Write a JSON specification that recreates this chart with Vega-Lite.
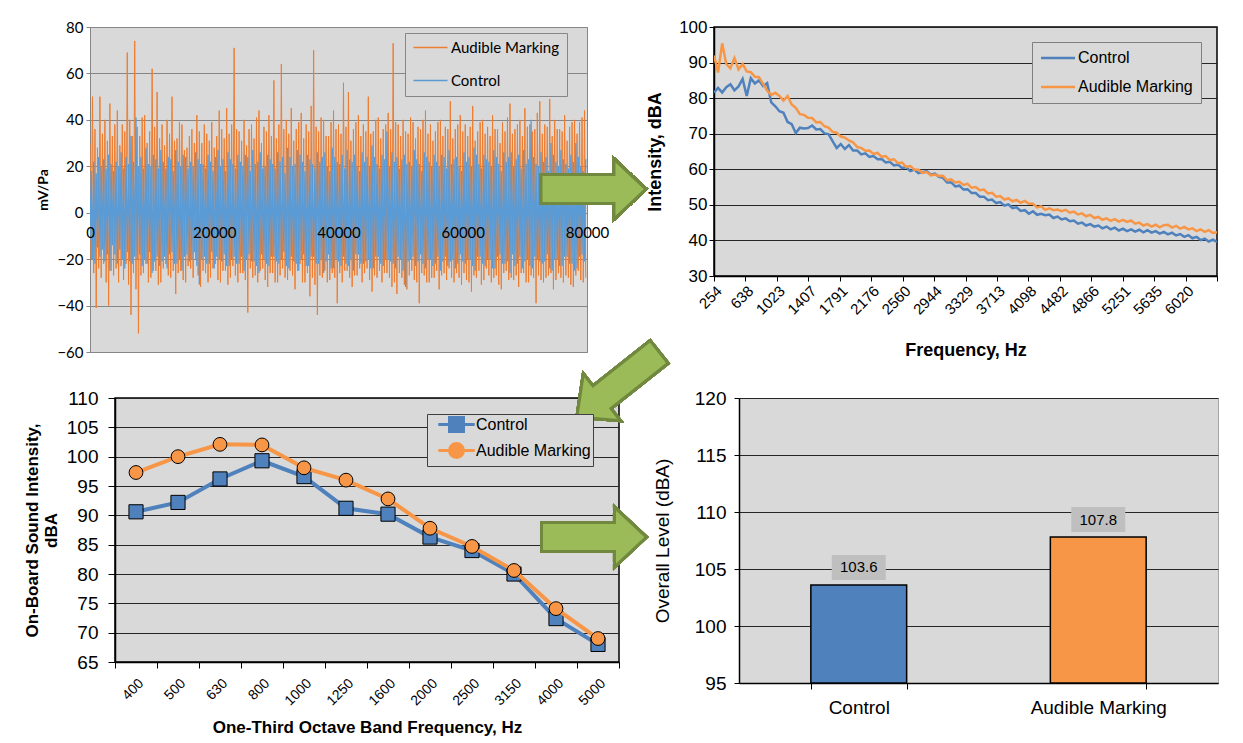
{
  "$schema": "https://vega.github.io/schema/vega-lite/v6.json",
  "background": "white",
  "padding": {"left": 22, "top": 17, "right": 2, "bottom": 2},
  "config": {
    "font": "Liberation Sans",
    "view": {"fill": "#d9d9d9", "stroke": "#000000", "strokeWidth": 1.5},
    "axis": {"labelColor": "#000000", "titleColor": "#000000", "domainColor": "#000000", "tickColor": "#000000", "gridColor": "#262626", "gridWidth": 1, "labelFont": "Liberation Sans", "titleFont": "Liberation Sans", "domainWidth": 1.5, "tickWidth": 1, "tickCount": 30},
    "legend": {"labelFont": "Liberation Sans", "labelColor": "#000000"}
  },
  "resolve": {"scale": {"color": "independent"}, "legend": {"color": "independent"}},
  "spacing": -28,
  "vconcat": [
    {
      "bounds": "flush",
      "spacing": 127,
      "resolve": {"scale": {"color": "independent"}, "legend": {"color": "independent"}},
      "hconcat": [
        {
          "width": 497,
          "height": 325,
          "view": {"fill": "#d9d9d9", "stroke": "#868686", "strokeWidth": 1},
          "data": {"values": [
{"t":0,"a":30,"c":-12},{"t":200,"a":-20,"c":18},{"t":400,"a":50,"c":-20},{"t":600,"a":-26,"c":22},{"t":800,"a":36,"c":-22},{"t":1000,"a":-41,"c":17},{"t":1200,"a":28,"c":-15},{"t":1400,"a":-24,"c":24},{"t":1600,"a":50,"c":-19},{"t":1800,"a":-28,"c":20},
{"t":2000,"a":34,"c":-16},{"t":2200,"a":-22,"c":23},{"t":2400,"a":40,"c":-21},{"t":2600,"a":-30,"c":19},{"t":2800,"a":31,"c":-18},{"t":3000,"a":-40,"c":25},{"t":3200,"a":47,"c":-25},{"t":3400,"a":-25,"c":21},{"t":3600,"a":33,"c":-14},{"t":3800,"a":-27,"c":18},
{"t":4000,"a":38,"c":-18},{"t":4200,"a":-24,"c":22},{"t":4400,"a":44,"c":-22},{"t":4600,"a":-30,"c":20},{"t":4800,"a":29,"c":-16},{"t":5000,"a":-23,"c":26},{"t":5200,"a":38,"c":-20},{"t":5400,"a":-29,"c":19},{"t":5600,"a":35,"c":-24},{"t":5800,"a":-22,"c":24},
{"t":6000,"a":69,"c":-17},{"t":6200,"a":-31,"c":21},{"t":6400,"a":40,"c":-21},{"t":6600,"a":-44,"c":33},{"t":6800,"a":33,"c":-22},{"t":7000,"a":-26,"c":22},{"t":7200,"a":74,"c":-19},{"t":7400,"a":-33,"c":41},{"t":7600,"a":37,"c":-20},{"t":7800,"a":-52,"c":20},
{"t":8000,"a":33,"c":-18},{"t":8200,"a":-27,"c":24},{"t":8400,"a":41,"c":-23},{"t":8600,"a":-26,"c":19},{"t":8800,"a":42,"c":-20},{"t":9000,"a":-22,"c":28},{"t":9200,"a":30,"c":-22},{"t":9400,"a":-30,"c":21},{"t":9600,"a":35,"c":-17},{"t":9800,"a":-28,"c":20},
{"t":10000,"a":62,"c":-26},{"t":10200,"a":-25,"c":25},{"t":10400,"a":37,"c":-21},{"t":10600,"a":-25,"c":23},{"t":10800,"a":52,"c":-19},{"t":11000,"a":-31,"c":19},{"t":11200,"a":32,"c":-23},{"t":11400,"a":-30,"c":27},{"t":11600,"a":38,"c":-21},{"t":11800,"a":-24,"c":22},
{"t":12000,"a":29,"c":-19},{"t":12200,"a":-22,"c":19},{"t":12400,"a":40,"c":-24},{"t":12600,"a":-27,"c":24},{"t":12800,"a":34,"c":-18},{"t":13000,"a":-28,"c":23},{"t":13200,"a":50,"c":-17},{"t":13400,"a":-25,"c":18},{"t":13600,"a":31,"c":-22},{"t":13800,"a":-35,"c":27},
{"t":14000,"a":32,"c":-22},{"t":14200,"a":-26,"c":22},{"t":14400,"a":39,"c":-20},{"t":14600,"a":-25,"c":20},{"t":14800,"a":38,"c":-25},{"t":15000,"a":-29,"c":25},{"t":15200,"a":27,"c":-19},{"t":15400,"a":-30,"c":24},{"t":15600,"a":28,"c":-18},{"t":15800,"a":-23,"c":19},
{"t":16000,"a":33,"c":-21},{"t":16200,"a":-24,"c":22},{"t":16400,"a":36,"c":-20},{"t":16600,"a":-28,"c":20},{"t":16800,"a":30,"c":-17},{"t":17000,"a":-20,"c":26},{"t":17200,"a":42,"c":-23},{"t":17400,"a":-27,"c":23},{"t":17600,"a":35,"c":-31},{"t":17800,"a":-32,"c":21},
{"t":18000,"a":30,"c":-20},{"t":18200,"a":-25,"c":21},{"t":18400,"a":38,"c":-19},{"t":18600,"a":-26,"c":19},{"t":18800,"a":34,"c":-22},{"t":19000,"a":-30,"c":25},{"t":19200,"a":31,"c":-22},{"t":19400,"a":-28,"c":22},{"t":19600,"a":39,"c":-17},{"t":19800,"a":-24,"c":18},
{"t":20000,"a":28,"c":-24},{"t":20200,"a":-22,"c":24},{"t":20400,"a":33,"c":-19},{"t":20600,"a":-29,"c":27},{"t":20800,"a":44,"c":-20},{"t":21000,"a":-30,"c":20},{"t":21200,"a":36,"c":-21},{"t":21400,"a":-25,"c":23},{"t":21600,"a":32,"c":-18},{"t":21800,"a":-25,"c":18},
{"t":22000,"a":45,"c":-23},{"t":22200,"a":-31,"c":26},{"t":22400,"a":34,"c":-23},{"t":22600,"a":-28,"c":23},{"t":22800,"a":38,"c":-20},{"t":23000,"a":-23,"c":21},{"t":23200,"a":71,"c":-19},{"t":23400,"a":-27,"c":19},{"t":23600,"a":36,"c":-22},{"t":23800,"a":-30,"c":25},
{"t":24000,"a":35,"c":-22},{"t":24200,"a":-26,"c":22},{"t":24400,"a":31,"c":-19},{"t":24600,"a":-26,"c":20},{"t":24800,"a":40,"c":-25},{"t":25000,"a":-29,"c":25},{"t":25200,"a":29,"c":-20},{"t":25400,"a":-43,"c":24},{"t":25600,"a":36,"c":-18},{"t":25800,"a":-24,"c":18},
{"t":26000,"a":38,"c":-21},{"t":26200,"a":-28,"c":27},{"t":26400,"a":32,"c":-21},{"t":26600,"a":-27,"c":21},{"t":26800,"a":41,"c":-23},{"t":27000,"a":-30,"c":22},{"t":27200,"a":44,"c":-26},{"t":27400,"a":-25,"c":26},{"t":27600,"a":30,"c":-18},{"t":27800,"a":-24,"c":19},
{"t":28000,"a":37,"c":-20},{"t":28200,"a":-29,"c":20},{"t":28400,"a":35,"c":-22},{"t":28600,"a":-32,"c":25},{"t":28800,"a":42,"c":-23},{"t":29000,"a":-26,"c":23},{"t":29200,"a":33,"c":-19},{"t":29400,"a":-26,"c":21},{"t":29600,"a":57,"c":-19},{"t":29800,"a":-30,"c":19},
{"t":30000,"a":32,"c":-21},{"t":30200,"a":-30,"c":26},{"t":30400,"a":38,"c":-22},{"t":30600,"a":-27,"c":22},{"t":30800,"a":64,"c":-20},{"t":31000,"a":-24,"c":24},{"t":31200,"a":36,"c":-17},{"t":31400,"a":-28,"c":17},{"t":31600,"a":40,"c":-23},{"t":31800,"a":-29,"c":28},
{"t":32000,"a":34,"c":-24},{"t":32200,"a":-25,"c":24},{"t":32400,"a":45,"c":-19},{"t":32600,"a":-27,"c":20},{"t":32800,"a":31,"c":-21},{"t":33000,"a":-33,"c":21},{"t":33200,"a":36,"c":-22},{"t":33400,"a":-25,"c":27},{"t":33600,"a":39,"c":-25},{"t":33800,"a":-22,"c":25},
{"t":34000,"a":43,"c":-20},{"t":34200,"a":-30,"c":22},{"t":34400,"a":32,"c":-18},{"t":34600,"a":-30,"c":18},{"t":34800,"a":38,"c":-23},{"t":35000,"a":-26,"c":25},{"t":35200,"a":35,"c":-23},{"t":35400,"a":-36,"c":23},{"t":35600,"a":46,"c":-19},{"t":35800,"a":-28,"c":21},
{"t":36000,"a":70,"c":-19},{"t":36200,"a":-31,"c":19},{"t":36400,"a":37,"c":-22},{"t":36600,"a":-44,"c":26},{"t":36800,"a":35,"c":-22},{"t":37000,"a":-27,"c":22},{"t":37200,"a":41,"c":-20},{"t":37400,"a":-28,"c":24},{"t":37600,"a":40,"c":-26},{"t":37800,"a":-25,"c":26},
{"t":38000,"a":33,"c":-21},{"t":38200,"a":-30,"c":20},{"t":38400,"a":33,"c":-18},{"t":38600,"a":-29,"c":18},{"t":38800,"a":39,"c":-24},{"t":39000,"a":-26,"c":28},{"t":39200,"a":44,"c":-24},{"t":39400,"a":-28,"c":24},{"t":39600,"a":36,"c":-20},{"t":39800,"a":-39,"c":22},
{"t":40000,"a":38,"c":-21},{"t":40200,"a":-26,"c":21},{"t":40400,"a":34,"c":-23},{"t":40600,"a":-30,"c":25},{"t":40800,"a":56,"c":-19},{"t":41000,"a":-25,"c":19},{"t":41200,"a":37,"c":-22},{"t":41400,"a":-25,"c":27},{"t":41600,"a":52,"c":-23},{"t":41800,"a":-28,"c":23},
{"t":42000,"a":31,"c":-20},{"t":42200,"a":-32,"c":22},{"t":42400,"a":36,"c":-25},{"t":42600,"a":-27,"c":25},{"t":42800,"a":39,"c":-18},{"t":43000,"a":-27,"c":20},{"t":43200,"a":42,"c":-18},{"t":43400,"a":-24,"c":18},{"t":43600,"a":33,"c":-22},{"t":43800,"a":-30,"c":26},
{"t":44000,"a":38,"c":-22},{"t":44200,"a":-26,"c":22},{"t":44400,"a":35,"c":-21},{"t":44600,"a":-24,"c":24},{"t":44800,"a":50,"c":-20},{"t":45000,"a":-29,"c":20},{"t":45200,"a":34,"c":-24},{"t":45400,"a":-34,"c":29},{"t":45600,"a":35,"c":-24},{"t":45800,"a":-27,"c":24},
{"t":46000,"a":40,"c":-19},{"t":46200,"a":-28,"c":21},{"t":46400,"a":41,"c":-19},{"t":46600,"a":-25,"c":19},{"t":46800,"a":32,"c":-22},{"t":47000,"a":-30,"c":25},{"t":47200,"a":36,"c":-23},{"t":47400,"a":-26,"c":23},{"t":47600,"a":38,"c":-20},{"t":47800,"a":-26,"c":35},
{"t":48000,"a":43,"c":-20},{"t":48200,"a":-28,"c":20},{"t":48400,"a":36,"c":-21},{"t":48600,"a":-32,"c":26},{"t":48800,"a":73,"c":-22},{"t":49000,"a":-30,"c":22},{"t":49200,"a":39,"c":-24},{"t":49400,"a":-35,"c":24},{"t":49600,"a":38,"c":-19},{"t":49800,"a":-26,"c":19},
{"t":50000,"a":33,"c":-20},{"t":50200,"a":-28,"c":23},{"t":50400,"a":40,"c":-25},{"t":50600,"a":-31,"c":25},{"t":50800,"a":35,"c":-32},{"t":51000,"a":-33,"c":21},{"t":51200,"a":34,"c":-21},{"t":51400,"a":-27,"c":22},{"t":51600,"a":41,"c":-20},{"t":51800,"a":-25,"c":20},
{"t":52000,"a":39,"c":-19},{"t":52200,"a":-29,"c":27},{"t":52400,"a":32,"c":-23},{"t":52600,"a":-30,"c":23},{"t":52800,"a":37,"c":-21},{"t":53000,"a":-39,"c":21},{"t":53200,"a":36,"c":-18},{"t":53400,"a":-26,"c":18},{"t":53600,"a":40,"c":-22},{"t":53800,"a":-27,"c":26},
{"t":54000,"a":44,"c":-24},{"t":54200,"a":-30,"c":24},{"t":54400,"a":34,"c":-20},{"t":54600,"a":-30,"c":22},{"t":54800,"a":38,"c":-20},{"t":55000,"a":-28,"c":20},{"t":55200,"a":31,"c":-23},{"t":55400,"a":-28,"c":25},{"t":55600,"a":35,"c":-22},{"t":55800,"a":-25,"c":22},
{"t":56000,"a":39,"c":-19},{"t":56200,"a":-33,"c":20},{"t":56400,"a":40,"c":-25},{"t":56600,"a":-27,"c":25},{"t":56800,"a":33,"c":-21},{"t":57000,"a":-26,"c":24},{"t":57200,"a":37,"c":-19},{"t":57400,"a":-29,"c":19},{"t":57600,"a":36,"c":-23},{"t":57800,"a":-24,"c":27},
{"t":58000,"a":48,"c":-21},{"t":58200,"a":-28,"c":21},{"t":58400,"a":32,"c":-20},{"t":58600,"a":-30,"c":23},{"t":58800,"a":36,"c":-24},{"t":59000,"a":-26,"c":24},{"t":59200,"a":38,"c":-22},{"t":59400,"a":-28,"c":20},{"t":59600,"a":42,"c":-18},{"t":59800,"a":-31,"c":18},
{"t":60000,"a":35,"c":-21},{"t":60200,"a":-26,"c":26},{"t":60400,"a":38,"c":-22},{"t":60600,"a":-29,"c":22},{"t":60800,"a":33,"c":-20},{"t":61000,"a":-30,"c":24},{"t":61200,"a":37,"c":-20},{"t":61400,"a":-34,"c":20},{"t":61600,"a":46,"c":-23},{"t":61800,"a":-27,"c":28},
{"t":62000,"a":31,"c":-25},{"t":62200,"a":-28,"c":25},{"t":62400,"a":35,"c":-19},{"t":62600,"a":-25,"c":21},{"t":62800,"a":39,"c":-19},{"t":63000,"a":-31,"c":19},{"t":63200,"a":40,"c":-22},{"t":63400,"a":-29,"c":25},{"t":63600,"a":34,"c":-23},{"t":63800,"a":-24,"c":23},
{"t":64000,"a":37,"c":-20},{"t":64200,"a":-27,"c":22},{"t":64400,"a":33,"c":-20},{"t":64600,"a":-30,"c":20},{"t":64800,"a":42,"c":-24},{"t":65000,"a":-28,"c":27},{"t":65200,"a":36,"c":-24},{"t":65400,"a":-27,"c":24},{"t":65600,"a":36,"c":-19},{"t":65800,"a":-31,"c":21},
{"t":66000,"a":30,"c":-18},{"t":66200,"a":-33,"c":18},{"t":66400,"a":39,"c":-22},{"t":66600,"a":-26,"c":26},{"t":66800,"a":35,"c":-22},{"t":67000,"a":-25,"c":22},{"t":67200,"a":41,"c":-21},{"t":67400,"a":-29,"c":24},{"t":67600,"a":47,"c":-26},{"t":67800,"a":-28,"c":26},
{"t":68000,"a":34,"c":-18},{"t":68200,"a":-29,"c":20},{"t":68400,"a":36,"c":-23},{"t":68600,"a":-27,"c":23},{"t":68800,"a":38,"c":-22},{"t":69000,"a":-32,"c":25},{"t":69200,"a":40,"c":-19},{"t":69400,"a":-26,"c":19},{"t":69600,"a":33,"c":-24},{"t":69800,"a":-26,"c":27},
{"t":70000,"a":45,"c":-21},{"t":70200,"a":-30,"c":21},{"t":70400,"a":37,"c":-20},{"t":70600,"a":-30,"c":23},{"t":70800,"a":38,"c":-23},{"t":71000,"a":-27,"c":40},{"t":71200,"a":35,"c":-24},{"t":71400,"a":-28,"c":24},{"t":71600,"a":36,"c":-19},{"t":71800,"a":-39,"c":21},
{"t":72000,"a":43,"c":-20},{"t":72200,"a":-27,"c":20},{"t":72400,"a":48,"c":-21},{"t":72600,"a":-29,"c":26},{"t":72800,"a":34,"c":-22},{"t":73000,"a":-30,"c":22},{"t":73200,"a":38,"c":-21},{"t":73400,"a":-28,"c":24},{"t":73600,"a":37,"c":-18},{"t":73800,"a":-27,"c":18},
{"t":74000,"a":49,"c":-24},{"t":74200,"a":-26,"c":30},{"t":74400,"a":33,"c":-25},{"t":74600,"a":-33,"c":25},{"t":74800,"a":40,"c":-20},{"t":75000,"a":-29,"c":22},{"t":75200,"a":36,"c":-20},{"t":75400,"a":-26,"c":20},{"t":75600,"a":36,"c":-23},{"t":75800,"a":-28,"c":27},
{"t":76000,"a":35,"c":-23},{"t":76200,"a":-30,"c":23},{"t":76400,"a":42,"c":-19},{"t":76600,"a":-27,"c":21},{"t":76800,"a":31,"c":-19},{"t":77000,"a":-28,"c":19},{"t":77200,"a":37,"c":-22},{"t":77400,"a":-31,"c":25},{"t":77600,"a":39,"c":-22},{"t":77800,"a":-32,"c":22},
{"t":78000,"a":40,"c":-25},{"t":78200,"a":-27,"c":30},{"t":78400,"a":34,"c":-24},{"t":78600,"a":-25,"c":24},{"t":78800,"a":39,"c":-19},{"t":79000,"a":-29,"c":20},{"t":79200,"a":41,"c":-18},{"t":79400,"a":-30,"c":18},{"t":79600,"a":44,"c":-21},{"t":79800,"a":-28,"c":23}
          ]},
          "layer": [
            {
              "mark": {"type": "line", "strokeWidth": 1, "clip": true},
              "encoding": {
                "x": {"field": "t", "type": "quantitative", "title": null, "scale": {"domain": [0, 80000], "nice": false, "zero": false},
                  "axis": {"values": [0, 20000, 40000, 60000, 80000], "format": "d", "offset": -139, "ticks": false, "domain": false, "grid": false, "labelFont": "Lato", "labelFontSize": 15, "labelPadding": 12, "labelFlush": false, "labelOverlap": false, "zindex": 2}},
                "y": {"field": "a", "type": "quantitative", "title": "mV/Pa", "scale": {"domain": [-60, 80], "nice": false, "zero": false},
                  "axis": {"values": [-60, -40, -20, 0, 20, 40, 60, 80], "labelOverlap": false, "labelFont": "Lato", "labelFontSize": 15, "tickSize": 4, "labelPadding": 3, "tickColor": "#868686", "domainColor": "#868686", "domainWidth": 1, "gridColor": "#868686", "titleFont": "Lato", "titleFontSize": 14, "titleFontWeight": "bold", "titlePadding": 6}},
                "color": {"datum": "Audible Marking", "type": "nominal",
                  "scale": {"domain": ["Audible Marking", "Control"], "range": ["#ed7d31", "#5b9bd5"]},
                  "legend": {"orient": "none", "legendX": 315, "legendY": 6, "title": null, "fillColor": "#d9d9d9", "strokeColor": "#868686", "padding": 7, "symbolType": "M-3.4,0H3.4", "symbolSize": 100, "symbolStrokeWidth": 1.5, "symbolOffset": 11, "labelOffset": 13, "rowPadding": 17, "labelFont": "Lato", "labelFontSize": 15, "labelLimit": 300}}
              }
            },
            {
              "mark": {"type": "line", "strokeWidth": 1.3, "clip": true},
              "encoding": {
                "x": {"field": "t", "type": "quantitative", "title": null},
                "y": {"field": "c", "type": "quantitative", "title": "mV/Pa"},
                "color": {"datum": "Control", "type": "nominal"}
              }
            },
            {
              "mark": {"type": "point", "shape": "M-1,-0.276L0.39,-0.276L0.39,-0.571L1,0L0.39,0.571L0.39,0.276L-1,0.276Z", "size": 11025, "filled": true, "fill": "#9bbb59", "stroke": "#71893f", "strokeWidth": 3, "opacity": 1, "clip": false},
              "encoding": {
                "x": {"datum": 81047, "type": "quantitative"},
                "y": {"datum": 10.2, "type": "quantitative"}
              }
            }
          ]
        },
        {
          "width": 503,
          "height": 249,
          "view": {"fill": "#d9d9d9", "stroke": "#000000", "strokeWidth": 1.5},
          "data": {"values": [
{"f":254,"c":81.5,"a":92.0},{"f":304,"c":82.9,"a":87.2},{"f":354,"c":81.6,"a":95.4},{"f":404,"c":83.1,"a":89.6},{"f":454,"c":83.9,"a":88.4},{"f":504,"c":82.2,"a":91.3},{"f":554,"c":83.3,"a":88.1},{"f":604,"c":85.4,"a":89.6},{"f":654,"c":80.6,"a":87.5},{"f":704,"c":85.6,"a":87.3},
{"f":754,"c":84.1,"a":86.0},{"f":804,"c":85.0,"a":85.9},{"f":854,"c":83.4,"a":84.0},{"f":904,"c":84.2,"a":82.1},{"f":954,"c":78.8,"a":80.9},{"f":1004,"c":77.7,"a":81.5},{"f":1054,"c":76.3,"a":80.6},{"f":1104,"c":75.9,"a":79.3},{"f":1154,"c":73.3,"a":80.6},{"f":1204,"c":72.7,"a":78.2},
{"f":1254,"c":70.2,"a":77.3},{"f":1304,"c":71.7,"a":75.5},{"f":1354,"c":71.5,"a":75.3},{"f":1404,"c":71.6,"a":74.5},{"f":1454,"c":72.3,"a":74.4},{"f":1504,"c":71.2,"a":73.2},{"f":1554,"c":71.3,"a":73.3},{"f":1604,"c":70.1,"a":72.1},{"f":1654,"c":69.9,"a":71.7},{"f":1704,"c":67.9,"a":70.5},
{"f":1754,"c":66.0,"a":70.3},{"f":1804,"c":67.1,"a":69.2},{"f":1854,"c":65.7,"a":68.9},{"f":1904,"c":66.8,"a":68.1},{"f":1954,"c":65.3,"a":67.6},{"f":2004,"c":65.3,"a":66.3},{"f":2054,"c":64.2,"a":66.0},{"f":2104,"c":64.5,"a":65.2},{"f":2154,"c":63.5,"a":65.3},{"f":2204,"c":63.7,"a":64.3},
{"f":2254,"c":62.8,"a":64.6},{"f":2304,"c":62.9,"a":63.5},{"f":2354,"c":61.9,"a":63.7},{"f":2404,"c":62.1,"a":62.6},{"f":2454,"c":61.1,"a":62.8},{"f":2504,"c":61.3,"a":61.7},{"f":2554,"c":60.3,"a":61.9},{"f":2604,"c":60.6,"a":60.7},{"f":2654,"c":59.5,"a":60.9},{"f":2704,"c":59.9,"a":59.9},
{"f":2754,"c":58.9,"a":59.9},{"f":2804,"c":59.2,"a":59.0},{"f":2854,"c":59.5,"a":59.2},{"f":2904,"c":58.5,"a":58.3},{"f":2954,"c":58.8,"a":58.5},{"f":3004,"c":57.9,"a":58.1},{"f":3054,"c":57.6,"a":58.2},{"f":3104,"c":56.3,"a":56.9},{"f":3154,"c":56.3,"a":57.2},{"f":3204,"c":55.2,"a":56.3},
{"f":3254,"c":55.4,"a":56.5},{"f":3304,"c":54.3,"a":55.6},{"f":3354,"c":54.4,"a":55.9},{"f":3404,"c":53.3,"a":54.8},{"f":3454,"c":53.3,"a":55.0},{"f":3504,"c":52.3,"a":54.1},{"f":3554,"c":52.3,"a":54.3},{"f":3604,"c":51.3,"a":53.2},{"f":3654,"c":51.5,"a":53.4},{"f":3704,"c":50.5,"a":52.3},
{"f":3754,"c":50.8,"a":52.5},{"f":3804,"c":49.8,"a":51.5},{"f":3854,"c":50.1,"a":51.8},{"f":3904,"c":49.1,"a":51.0},{"f":3954,"c":49.3,"a":51.4},{"f":4004,"c":48.3,"a":50.6},{"f":4054,"c":48.5,"a":51.1},{"f":4104,"c":47.5,"a":50.3},{"f":4154,"c":48.2,"a":50.3},{"f":4204,"c":47.2,"a":49.3},
{"f":4254,"c":47.5,"a":49.6},{"f":4304,"c":47.1,"a":48.6},{"f":4354,"c":47.3,"a":49.0},{"f":4404,"c":46.3,"a":48.5},{"f":4454,"c":46.7,"a":48.7},{"f":4504,"c":45.9,"a":48.2},{"f":4554,"c":46.2,"a":48.6},{"f":4604,"c":45.4,"a":47.8},{"f":4654,"c":45.6,"a":48.1},{"f":4704,"c":44.7,"a":47.3},
{"f":4754,"c":45.0,"a":47.6},{"f":4804,"c":44.2,"a":46.8},{"f":4854,"c":44.6,"a":47.2},{"f":4904,"c":43.9,"a":46.3},{"f":4954,"c":44.2,"a":46.6},{"f":5004,"c":43.4,"a":45.8},{"f":5054,"c":43.9,"a":46.2},{"f":5104,"c":43.1,"a":45.5},{"f":5154,"c":43.6,"a":46.0},{"f":5204,"c":42.8,"a":45.3},
{"f":5254,"c":43.3,"a":45.8},{"f":5304,"c":42.6,"a":45.2},{"f":5354,"c":43.1,"a":45.6},{"f":5404,"c":42.5,"a":44.7},{"f":5454,"c":43.0,"a":45.0},{"f":5504,"c":42.3,"a":44.2},{"f":5554,"c":42.9,"a":44.6},{"f":5604,"c":42.2,"a":43.9},{"f":5654,"c":42.6,"a":44.4},{"f":5704,"c":41.9,"a":43.7},
{"f":5754,"c":42.4,"a":44.3},{"f":5804,"c":41.7,"a":44.4},{"f":5854,"c":42.2,"a":43.6},{"f":5904,"c":41.4,"a":44.1},{"f":5954,"c":41.8,"a":43.3},{"f":6004,"c":41.0,"a":43.8},{"f":6054,"c":41.5,"a":43.1},{"f":6104,"c":40.6,"a":43.4},{"f":6154,"c":41.0,"a":42.6},{"f":6204,"c":40.1,"a":43.1},
{"f":6254,"c":40.5,"a":42.4},{"f":6304,"c":39.7,"a":42.9},{"f":6354,"c":40.2,"a":42.1},{"f":6404,"c":39.6,"a":42.3}
          ]},
          "layer": [
            {
              "mark": {"type": "line", "strokeWidth": 2.5, "clip": true},
              "encoding": {
                "x": {"field": "f", "type": "quantitative", "title": "Frequency, Hz", "scale": {"domain": [254, 6404], "nice": false, "zero": false},
                  "axis": {"values": [254, 638, 1023, 1407, 1791, 2176, 2560, 2944, 3329, 3713, 4098, 4482, 4866, 5251, 5635, 6020, 6404], "format": "d", "labelExpr": "datum.value > 6400 ? '' : datum.label", "labelAngle": -45, "labelFontSize": 15, "labelOverlap": false, "labelFlush": false, "tickSize": 5, "labelPadding": 2, "grid": false, "titleFontSize": 18, "titleFontWeight": "bold", "titlePadding": 24}},
                "y": {"field": "c", "type": "quantitative", "title": "Intensity, dBA", "scale": {"domain": [30, 100], "nice": false, "zero": false},
                  "axis": {"values": [30, 40, 50, 60, 70, 80, 90, 100], "labelOverlap": false, "labelFontSize": 17, "tickSize": 5, "labelPadding": 2, "titleFontSize": 18, "titleFontWeight": "bold", "titlePadding": 14}},
                "color": {"datum": "Control", "type": "nominal",
                  "scale": {"domain": ["Control", "Audible Marking"], "range": ["#4f81bd", "#f79646"]},
                  "legend": {"orient": "none", "legendX": 318, "legendY": 15, "title": null, "fillColor": "#d9d9d9", "strokeColor": "#7f7f7f", "padding": 8, "symbolType": "M-3.4,0H3.4", "symbolSize": 100, "symbolStrokeWidth": 2.5, "symbolOffset": 10, "labelOffset": 12, "rowPadding": 13, "labelFontSize": 16, "labelLimit": 300}}
              }
            },
            {
              "mark": {"type": "line", "strokeWidth": 2.5, "clip": true},
              "encoding": {
                "x": {"field": "f", "type": "quantitative", "title": "Frequency, Hz"},
                "y": {"field": "a", "type": "quantitative", "title": "Intensity, dBA"},
                "color": {"datum": "Audible Marking", "type": "nominal"}
              }
            }
          ]
        }
      ]
    },
    {
      "bounds": "flush",
      "spacing": 0,
      "resolve": {"scale": {"color": "independent"}, "legend": {"color": "independent"}},
      "hconcat": [
        {
          "width": 25,
          "height": 20,
          "view": {"fill": "transparent", "stroke": "transparent"},
          "data": {"values": [{}]},
          "mark": {"type": "point", "opacity": 0}
        },
        {
          "width": 504,
          "height": 264,
          "view": {"fill": "#d9d9d9", "stroke": "#000000", "strokeWidth": 1.5},
          "data": {"values": [
            {"fr": "400", "c": 90.6, "a": 97.3},
            {"fr": "500", "c": 92.2, "a": 100.0},
            {"fr": "630", "c": 96.2, "a": 102.1},
            {"fr": "800", "c": 99.3, "a": 102.0},
            {"fr": "1000", "c": 96.6, "a": 98.1},
            {"fr": "1250", "c": 91.2, "a": 96.0},
            {"fr": "1600", "c": 90.2, "a": 92.8},
            {"fr": "2000", "c": 86.3, "a": 87.8},
            {"fr": "2500", "c": 84.0, "a": 84.7},
            {"fr": "3150", "c": 80.0, "a": 80.6},
            {"fr": "4000", "c": 72.4, "a": 74.1},
            {"fr": "5000", "c": 68.0, "a": 69.0}
          ]},
          "layer": [
            {
              "mark": {"type": "line", "strokeWidth": 4},
              "encoding": {
                "x": {"field": "fr", "type": "ordinal", "title": "One-Third Octave Band Frequency, Hz",
                  "scale": {"type": "band", "domain": ["400", "500", "630", "800", "1000", "1250", "1600", "2000", "2500", "3150", "4000", "5000"], "paddingInner": 0, "paddingOuter": 0},
                  "axis": {"labelAngle": -45, "labelFontSize": 14, "tickBand": "extent", "tickSize": 6, "labelPadding": 8, "titleFontSize": 17, "titleFontWeight": "bold", "titlePadding": 12}},
                "y": {"field": "c", "type": "quantitative", "title": ["On-Board Sound Intensity,", "dBA"], "scale": {"domain": [65, 110], "nice": false, "zero": false},
                  "axis": {"values": [65, 70, 75, 80, 85, 90, 95, 100, 105, 110], "labelOverlap": false, "labelFontSize": 19, "tickSize": 7, "labelPadding": 10, "titleFontSize": 17, "titleFontWeight": "bold", "titlePadding": 6}},
                "color": {"datum": "Control", "type": "nominal",
                  "scale": {"domain": ["Control", "Audible Marking"], "range": ["#4f81bd", "#f79646"]},
                  "legend": {"orient": "none", "legendX": 312, "legendY": 16, "title": null, "fillColor": "#d9d9d9", "strokeColor": "#404040", "padding": 2, "symbolSize": 196, "symbolStrokeWidth": 3, "symbolOffset": 19, "labelOffset": 11, "rowPadding": -1, "labelFontSize": 16, "labelLimit": 300,
                    "encode": {"symbols": {"update": {
                      "shape": {"signal": "datum.value === 'Control' ? 'M-2.6,0H-1M1,0H2.6M-1,-1H1V1H-1Z' : 'M-2.6,0H-1M1,0H2.6M-1,0A1,1 0 1,1 1,0A1,1 0 1,1 -1,0Z'"},
                      "fill": {"signal": "datum.value === 'Control' ? '#4f81bd' : '#f79646'"},
                      "stroke": {"signal": "datum.value === 'Control' ? '#4f81bd' : '#f79646'"},
                      "strokeWidth": {"value": 3},
                      "opacity": {"value": 1}
                    }}}}}
              }
            },
            {
              "mark": {"type": "point", "shape": "square", "size": 200, "filled": true, "fill": "#4f81bd", "stroke": "#000000", "strokeWidth": 1, "opacity": 1},
              "encoding": {
                "x": {"field": "fr", "type": "ordinal", "title": "One-Third Octave Band Frequency, Hz"},
                "y": {"field": "c", "type": "quantitative", "title": ["On-Board Sound Intensity,", "dBA"]}
              }
            },
            {
              "mark": {"type": "line", "strokeWidth": 4},
              "encoding": {
                "x": {"field": "fr", "type": "ordinal", "title": "One-Third Octave Band Frequency, Hz"},
                "y": {"field": "a", "type": "quantitative", "title": ["On-Board Sound Intensity,", "dBA"]},
                "color": {"datum": "Audible Marking", "type": "nominal"}
              }
            },
            {
              "mark": {"type": "point", "shape": "circle", "size": 190, "filled": true, "fill": "#f79646", "stroke": "#000000", "strokeWidth": 1, "opacity": 1},
              "encoding": {
                "x": {"field": "fr", "type": "ordinal", "title": "One-Third Octave Band Frequency, Hz"},
                "y": {"field": "a", "type": "quantitative", "title": ["On-Board Sound Intensity,", "dBA"]}
              }
            },
            {
              "mark": {"type": "point", "shape": "M-1,-0.276L0.39,-0.276L0.39,-0.571L1,0L0.39,0.571L0.39,0.276L-1,0.276Z", "size": 11025, "filled": true, "fill": "#9bbb59", "stroke": "#71893f", "strokeWidth": 3, "opacity": 1, "clip": false, "angle": 141.6, "xOffset": 20},
              "encoding": {
                "x": {"datum": "5000", "type": "ordinal"},
                "y": {"datum": 112.3, "type": "quantitative"}
              }
            },
            {
              "mark": {"type": "point", "shape": "M-1,-0.276L0.39,-0.276L0.39,-0.571L1,0L0.39,0.571L0.39,0.276L-1,0.276Z", "size": 11025, "filled": true, "fill": "#9bbb59", "stroke": "#71893f", "strokeWidth": 3, "opacity": 1, "clip": false, "xOffset": -4},
              "encoding": {
                "x": {"datum": "5000", "type": "ordinal"},
                "y": {"datum": 86.3, "type": "quantitative"}
              }
            }
          ]
        },
        {
          "width": 120,
          "height": 20,
          "view": {"fill": "transparent", "stroke": "transparent"},
          "data": {"values": [{}]},
          "mark": {"type": "point", "opacity": 0}
        },
        {
          "width": 479,
          "height": 285,
          "view": {"fill": "#d9d9d9", "stroke": "#a6a6a6", "strokeWidth": 1},
          "data": {"values": [
            {"g": "Control", "v": 103.6},
            {"g": "Audible Marking", "v": 107.8}
          ]},
          "layer": [
            {
              "mark": {"type": "bar", "stroke": "#000000", "strokeWidth": 1.5},
              "encoding": {
                "x": {"field": "g", "type": "nominal", "title": null,
                  "scale": {"domain": ["Control", "Audible Marking"], "paddingInner": 0.6, "paddingOuter": 0.3},
                  "axis": {"labelAngle": 0, "labelFontSize": 19, "tickBand": "extent", "tickSize": 6, "labelPadding": 9}},
                "y": {"field": "v", "type": "quantitative", "title": "Overall Level (dBA)", "scale": {"domain": [95, 120], "nice": false, "zero": false},
                  "axis": {"values": [95, 100, 105, 110, 115, 120], "labelOverlap": false, "labelFontSize": 19, "tickSize": 5, "labelPadding": 8, "titleFontSize": 19, "titleFontWeight": "normal", "titlePadding": 22}},
                "y2": {"datum": 95},
                "color": {"field": "g", "type": "nominal", "scale": {"domain": ["Control", "Audible Marking"], "range": ["#4f81bd", "#f79646"]}, "legend": null}
              }
            },
            {
              "mark": {"type": "point", "shape": "M-1,-0.463H1V0.463H-1Z", "size": 2916, "filled": true, "fill": "#bfbfbf", "strokeWidth": 0, "opacity": 1, "yOffset": -17.5},
              "encoding": {
                "x": {"field": "g", "type": "nominal", "title": null},
                "y": {"field": "v", "type": "quantitative", "title": "Overall Level (dBA)"}
              }
            },
            {
              "mark": {"type": "text", "fontSize": 15, "dy": -17.5, "baseline": "middle", "align": "center", "color": "#000000"},
              "encoding": {
                "x": {"field": "g", "type": "nominal", "title": null},
                "y": {"field": "v", "type": "quantitative", "title": "Overall Level (dBA)"},
                "text": {"field": "v", "type": "quantitative", "format": ".1f"}
              }
            }
          ]
        }
      ]
    }
  ]
}
